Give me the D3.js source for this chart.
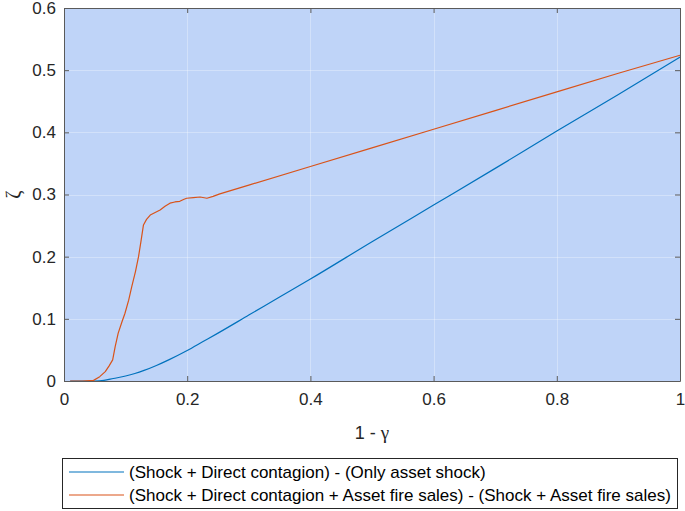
<!DOCTYPE html>
<html>
<head>
<meta charset="utf-8">
<script src="https://cdn.jsdelivr.net/npm/d3@7"></script>
<style>
  body { margin: 0; background: #fff; }
  text { font-family: "Liberation Sans", Arial, sans-serif; }
</style>
</head>
<body>
<script>

// series (x = 1 - gamma)
var blueX = [0.01, 0.03, 0.05, 0.065, 0.08, 0.1, 0.115, 0.13, 0.15, 0.17, 0.2, 0.225, 0.25, 0.3, 0.35, 0.4, 0.5, 0.6, 0.7, 0.8, 0.9, 1.0];
var blueY = [0, 0, 0, 0.001, 0.004, 0.008, 0.012, 0.017, 0.025, 0.034, 0.049, 0.063, 0.077, 0.106, 0.135, 0.164, 0.224, 0.283, 0.342, 0.402, 0.461, 0.521];

var orangeX = [0.01, 0.03, 0.048, 0.058, 0.067, 0.073, 0.079, 0.083, 0.088, 0.094, 0.099, 0.105, 0.11, 0.116, 0.121, 0.125, 0.129, 0.134, 0.14, 0.148, 0.156, 0.164, 0.172, 0.18, 0.188, 0.194, 0.199, 0.21, 0.221, 0.232, 0.242, 0.253, 0.3, 0.4, 0.5, 0.6, 0.7, 0.8, 0.9, 1.0];
var orangeY = [0, 0, 0.001, 0.007, 0.015, 0.024, 0.034, 0.055, 0.077, 0.095, 0.109, 0.13, 0.152, 0.176, 0.2, 0.225, 0.251, 0.26, 0.267, 0.271, 0.275, 0.281, 0.286, 0.288, 0.289, 0.292, 0.294, 0.295, 0.296, 0.294, 0.297, 0.301, 0.315, 0.345, 0.375, 0.405, 0.435, 0.465, 0.495, 0.524];

var xTicks = [0, 0.2, 0.4, 0.6, 0.8, 1];
var yTicks = [0, 0.1, 0.2, 0.3, 0.4, 0.5, 0.6];
var legendLabels = ["(Shock + Direct contagion) - (Only asset shock)",
                    "(Shock + Direct contagion + Asset fire sales) - (Shock + Asset fire sales)"];
var colors = ["#0072BD", "#D95319"];

var W = 685, H = 511;
var margin = {top: 8, right: 5, bottom: 130, left: 64},
    width = W - margin.left - margin.right,
    height = H - margin.top - margin.bottom;

var svg = d3.select("body").append("svg")
    .attr("width", W)
    .attr("height", H);

var g = svg.append("g")
    .attr("transform", "translate(" + margin.left + "," + margin.top + ")");

var x = d3.scaleLinear().domain([0, 1]).range([0, width]);
var y = d3.scaleLinear().domain([0, 0.6]).range([height, 0]);

// axes background
g.append("rect")
    .attr("width", width)
    .attr("height", height)
    .attr("fill", "#bfd4f8");

// grid
g.selectAll(".gx").data(xTicks.slice(1, -1)).enter().append("line")
    .attr("x1", function(d) { return Math.round(x(d)) + 0.5; })
    .attr("x2", function(d) { return Math.round(x(d)) + 0.5; })
    .attr("y1", 0).attr("y2", height)
    .attr("stroke", "#fff").attr("stroke-opacity", 0.3);
g.selectAll(".gy").data(yTicks.slice(1, -1)).enter().append("line")
    .attr("y1", function(d) { return Math.round(y(d)) + 0.5; })
    .attr("y2", function(d) { return Math.round(y(d)) + 0.5; })
    .attr("x1", 0).attr("x2", width)
    .attr("stroke", "#fff").attr("stroke-opacity", 0.3);

// lines: blue is smooth, orange is jagged in the original
var smoothLine = d3.line()
    .curve(d3.curveMonotoneX)
    .x(function(d) { return x(d[0]); })
    .y(function(d) { return y(d[1]); });
var plainLine = d3.line()
    .x(function(d) { return x(d[0]); })
    .y(function(d) { return y(d[1]); });

var series = [d3.zip(blueX, blueY), d3.zip(orangeX, orangeY)];
var gens = [smoothLine, plainLine];
series.forEach(function(s, i) {
  g.append("path")
      .datum(s)
      .attr("fill", "none")
      .attr("stroke", colors[i])
      .attr("stroke-width", 1.2)
      .attr("stroke-linejoin", "round")
      .attr("d", gens[i]);
});

// axes (ticks inward, box on all sides)
var axisColor = "#5a5a5a";
function styleAxis(sel) {
  sel.select(".domain").attr("stroke", axisColor);
  sel.selectAll(".tick line").attr("stroke", axisColor);
  sel.selectAll(".tick text")
      .attr("fill", "#262626")
      .style("font-size", "17px")
      .style("font-family", "'Liberation Sans', Arial, sans-serif");
}

g.append("g")
    .attr("transform", "translate(0," + height + ")")
    .call(d3.axisBottom(x).tickValues(xTicks).tickFormat(d3.format("")).tickSizeInner(-5).tickSizeOuter(0).tickPadding(12))
    .call(styleAxis);

g.append("g")
    .call(d3.axisTop(x).tickValues(xTicks).tickFormat("").tickSizeInner(-5).tickSizeOuter(0))
    .call(styleAxis);

g.append("g")
    .call(d3.axisLeft(y).tickValues(yTicks).tickFormat(d3.format("")).tickSizeInner(-5).tickSizeOuter(0).tickPadding(8))
    .call(styleAxis);

g.append("g")
    .attr("transform", "translate(" + width + ",0)")
    .call(d3.axisRight(y).tickValues(yTicks).tickFormat("").tickSizeInner(-5).tickSizeOuter(0))
    .call(styleAxis);

// axis labels
var xl = svg.append("text")
    .attr("x", margin.left + width / 2)
    .attr("y", 439)
    .attr("text-anchor", "middle")
    .attr("fill", "#262626")
    .style("font-size", "18px");
xl.append("tspan").text("1 - ");
xl.append("tspan").style("font-family", "'Liberation Serif', serif").style("font-size", "19px").text("γ");

svg.append("text")
    .attr("transform", "translate(20," + (margin.top + height / 2) + ") rotate(-90)")
    .attr("text-anchor", "middle")
    .attr("fill", "#262626")
    .style("font-family", "'Liberation Serif', serif")
    .style("font-size", "20px")
    .text("ζ");

// legend
var leg = svg.append("g");
leg.append("rect")
    .attr("x", 62.5).attr("y", 458.5)
    .attr("width", 615).attr("height", 50)
    .attr("fill", "#fff")
    .attr("stroke", "#262626")
    .attr("stroke-width", 1);

legendLabels.forEach(function(lab, i) {
  var ly = 472 + i * 23;
  leg.append("line")
      .attr("x1", 69).attr("x2", 124)
      .attr("y1", ly).attr("y2", ly)
      .attr("stroke", colors[i])
      .attr("stroke-width", 1.2);
  leg.append("text")
      .attr("x", 129)
      .attr("y", ly)
      .attr("dy", "0.35em")
      .attr("fill", "#000")
      .style("font-size", "17px")
      .text(lab);
});
</script>
</body>
</html>
